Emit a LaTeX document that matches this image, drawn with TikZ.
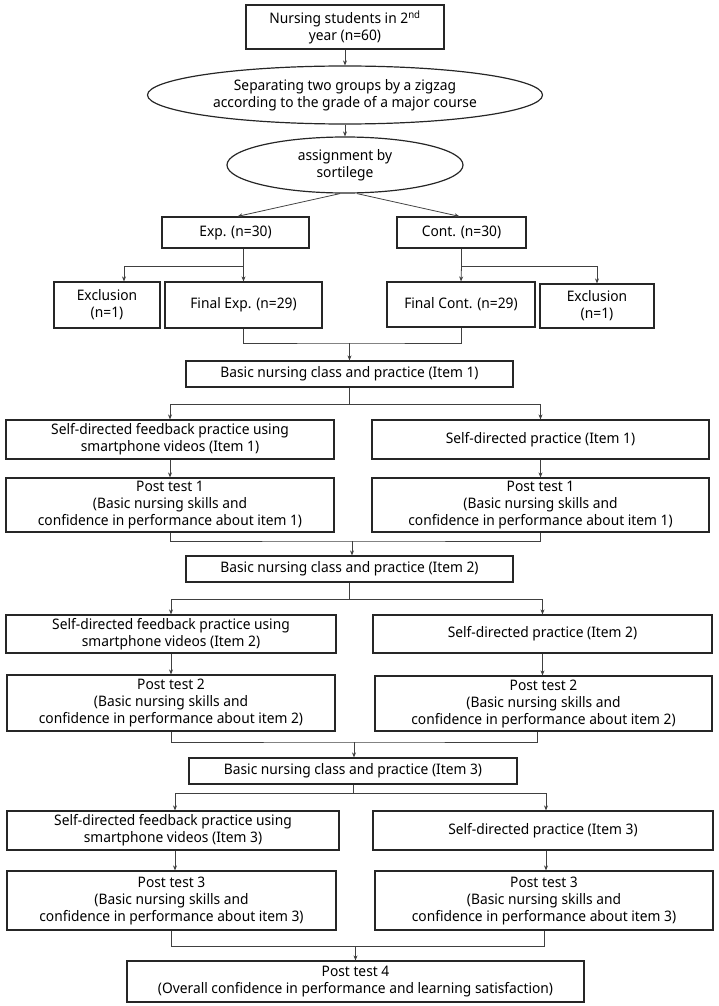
\documentclass[tikz,border=0pt]{standalone}
\usepackage{fontspec}
\setmainfont{Noto Sans}[FakeStretch=0.95]
\usetikzlibrary{arrows.meta,%
                shapes.geometric,%
                positioning}

\tikzset{
  box/.style={draw=black!85, line width=1.2pt, align=center, inner sep=1pt,
    font=\fontsize{14.5}{17}\selectfont},
  oval/.style={box, ellipse},
  ln/.style={draw=black!75, line width=0.8pt},
  arr/.style={ln, -{Stealth[length=5pt,width=4pt]}}
}

\begin{document}
\begin{tikzpicture}[x=1pt,y=-1pt]

      \useasboundingbox (0,0) rectangle (719,1006);

      % allocation
      \node[box, minimum width=198pt, minimum height=44pt] (students) at (345,27)
        {Nursing students in 2\textsuperscript{nd}\\year (n=60)};
      \node[oval, minimum width=395pt, minimum height=58pt] (zigzag) at (345,95)
        {Separating two groups by a zigzag\\according to the grade of a major course};
      \node[oval, minimum width=236pt, minimum height=56pt] (sortilege) at (345,165)
        {assignment by\\sortilege};

      \node[box, minimum width=147pt, minimum height=31pt] (exp) at (235.5,232.5) {Exp. (n=30)};
      \node[box, minimum width=129pt, minimum height=31pt] (cont) at (461.5,232.5) {Cont. (n=30)};

      \node[box, minimum width=106pt, minimum height=46pt] (exclexp) at (107,305) {Exclusion\\(n=1)};
      \node[box, minimum width=157pt, minimum height=46pt] (finexp) at (243.5,305) {Final Exp. (n=29)};
      \node[box, minimum width=148pt, minimum height=45pt] (fincont) at (461,304.5) {Final Cont. (n=29)};
      \node[box, minimum width=114pt, minimum height=44pt] (exclcont) at (597,306) {Exclusion\\(n=1)};

      % item 1
      \node[box, minimum width=327pt, minimum height=26pt] (class1) at (349.5,374)
        {Basic nursing class and practice (Item 1)};
      \node[box, minimum width=328pt, minimum height=39pt] (videoA) at (170,439.5)
        {Self-directed feedback practice using\\smartphone videos (Item 1)};
      \node[box, minimum width=337pt, minimum height=39pt] (selfA) at (540.5,439.5)
        {Self-directed practice (Item 1)};
      \node[box, minimum width=328pt, minimum height=54pt] (postexpA) at (170,505)
        {Post test 1\\(Basic nursing skills and\\confidence in performance about item 1)};
      \node[box, minimum width=337pt, minimum height=54pt] (postcontA) at (540.5,505)
        {Post test 1\\(Basic nursing skills and\\confidence in performance about item 1)};

      % item 2
      \node[box, minimum width=327pt, minimum height=26pt] (class2) at (349.5,569)
        {Basic nursing class and practice (Item 2)};
      \node[box, minimum width=330pt, minimum height=38pt] (videoB) at (171,634)
        {Self-directed feedback practice using\\smartphone videos (Item 2)};
      \node[box, minimum width=339pt, minimum height=38pt] (selfB) at (542.5,634)
        {Self-directed practice (Item 2)};
      \node[box, minimum width=328pt, minimum height=56pt] (postexpB) at (171,703)
        {Post test 2\\(Basic nursing skills and\\confidence in performance about item 2)};
      \node[box, minimum width=337pt, minimum height=55pt] (postcontB) at (543.5,703.5)
        {Post test 2\\(Basic nursing skills and\\confidence in performance about item 2)};

      % item 3
      \node[box, minimum width=328pt, minimum height=26pt] (class3) at (353,771)
        {Basic nursing class and practice (Item 3)};
      \node[box, minimum width=332pt, minimum height=39pt] (videoC) at (173,830.5)
        {Self-directed feedback practice using\\smartphone videos (Item 3)};
      \node[box, minimum width=340pt, minimum height=39pt] (selfC) at (543,830.5)
        {Self-directed practice (Item 3)};
      \node[box, minimum width=329pt, minimum height=59pt] (postexpC) at (171.5,900.5)
        {Post test 3\\(Basic nursing skills and\\confidence in performance about item 3)};
      \node[box, minimum width=338pt, minimum height=59pt] (postcontC) at (544,900.5)
        {Post test 3\\(Basic nursing skills and\\confidence in performance about item 3)};

      \node[box, minimum width=457pt, minimum height=41pt] (final) at (355.5,981.5)
        {Post test 4\\(Overall confidence in performance and learning satisfaction)};

      % connectors
      \draw[arr] (students) -- (zigzag);
      \draw[arr] (zigzag) -- (sortilege);
      \draw[arr] ([xshift=-5pt]sortilege.south) -- ([xshift=2pt]exp.north);
      \draw[arr] ([xshift=12pt]sortilege.south) -- ([xshift=-2pt]cont.north);

      \coordinate (splitexp) at (243.5,266);
      \coordinate (splitcont) at (461.5,266);
      \draw[ln] (exp.south -| splitexp) -- (splitexp);
      \draw[arr] (splitexp) -| ([xshift=17pt]exclexp.north);
      \draw[arr] (splitexp) -- (finexp.north);
      \draw[ln] (cont.south) -- (splitcont);
      \draw[arr] (splitcont) -- (fincont.north);
      \draw[arr] (splitcont) -| (exclcont.north);

      \coordinate (join0) at (349.5,343);
      \draw[ln] (finexp.south) |- (join0) -| (fincont.south);
      \draw[arr] (join0) -- (class1.north);

      \coordinate (splitA) at (349.5,404);
      \draw[ln] (class1.south) -- (splitA);
      \draw[arr] (splitA) -| (videoA.north);
      \draw[arr] (splitA) -| (selfA.north);
      \draw[arr] (videoA) -- (postexpA);
      \draw[arr] (selfA) -- (postcontA);

      \coordinate (joinA) at (352,541);
      \draw[ln] (postexpA.south) |- (joinA) -| (postcontA.south);
      \draw[arr] (joinA) -- (joinA |- class2.north);

      \coordinate (splitB) at (349.5,599);
      \draw[ln] (class2.south) -- (splitB);
      \draw[arr] (splitB) -| (videoB.north);
      \draw[arr] (splitB) -| (selfB.north);
      \draw[arr] (videoB) -- (videoB |- postexpB.north);
      \draw[arr] (selfB) -- (selfB |- postcontB.north);

      \coordinate (joinB) at (354,742);
      \draw[ln] (postexpB.south) |- (joinB) -| ([xshift=-6pt]postcontB.south);
      \draw[arr] (joinB) -- (joinB |- class3.north);

      \coordinate (splitC) at (353,793);
      \draw[ln] (class3.south) -- (splitC);
      \draw[arr] (splitC) -| ([xshift=2pt]videoC.north);
      \draw[arr] (splitC) -| ([xshift=3pt]selfC.north);
      \draw[arr] ([xshift=2pt]videoC.south) -- ([xshift=2pt]videoC.south |- postexpC.north);
      \draw[arr] ([xshift=3pt]selfC.south) -- ([xshift=3pt]selfC.south |- postcontC.north);

      \coordinate (joinC) at (355.5,946);
      \draw[ln] (postexpC.south) |- (joinC) -| (postcontC.south);
      \draw[arr] (joinC) -- (final.north);

    \end{tikzpicture}
\end{document}
